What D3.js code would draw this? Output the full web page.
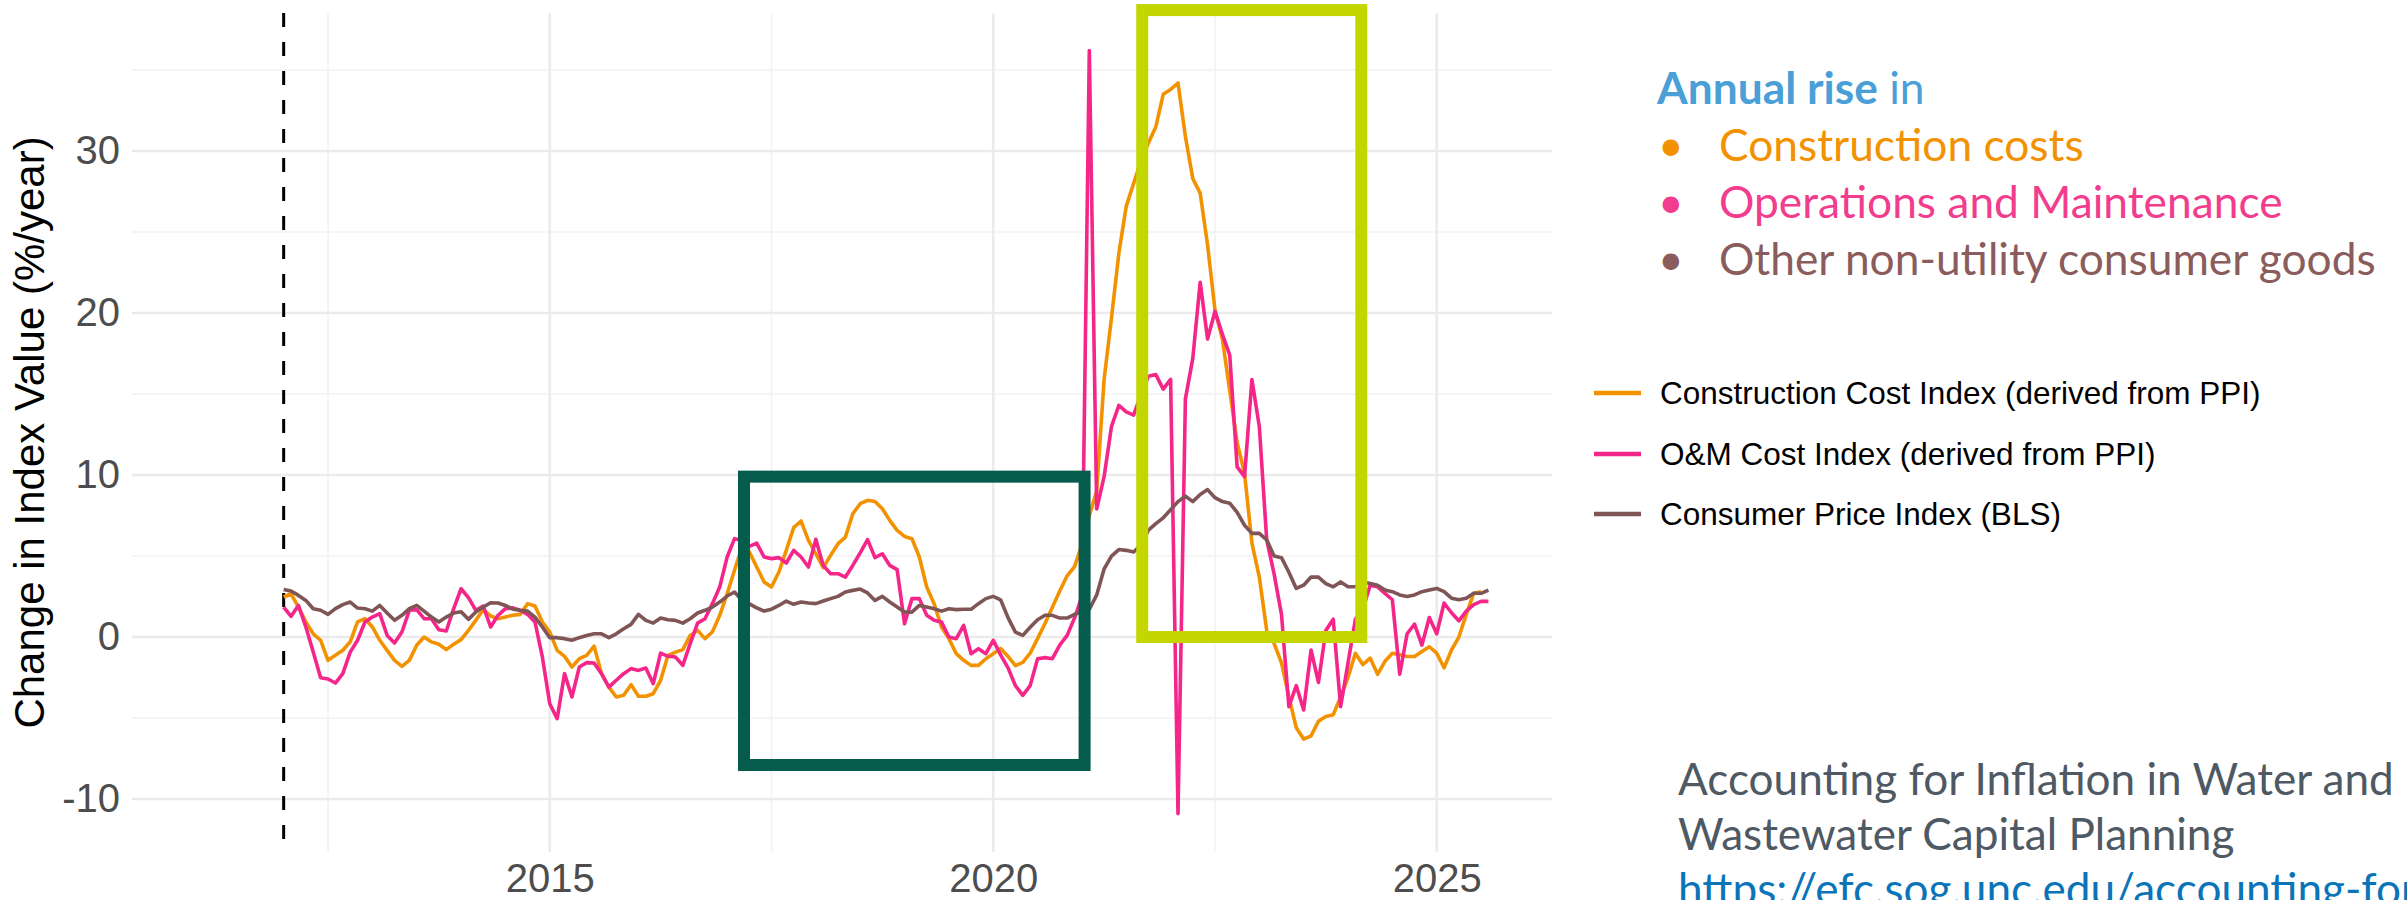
<!DOCTYPE html>
<html><head><meta charset="utf-8">
<script src="https://cdn.jsdelivr.net/npm/d3@7"></script>
<style>html,body{margin:0;padding:0;background:#fff;overflow:hidden}svg{display:block}</style>
</head><body>
<script>
// ---------- data (monthly, Jan 2012 onward, % change per year) ----------
const startYear = 2012;
const constructionIdx = [
 2.47,2.67,1.85,0.93,0.2,-0.2,-1.44,-1.13,-0.82,-0.3,0.93,1.13,
 0.62,-0.2,-0.82,-1.44,-1.81,-1.44,-0.51,0,-0.3,-0.45,-0.78,-0.45,
 -0.16,0.41,1.03,1.69,1.3,1.13,1.23,1.34,1.4,2.06,1.91,0.93,
 0.31,-0.82,-1.19,-1.85,-1.34,-1.13,-0.56,-2.26,-3.09,-3.7,-3.6,-2.94,
 -3.66,-3.66,-3.5,-2.67,-1.13,-0.93,-0.78,0.1,0.41,-0.1,0.31,1.34,
 2.67,4.12,5.56,5.25,4.32,3.4,3.09,4.01,5.35,6.75,7.16,5.97,
 5.14,4.28,5.04,5.76,6.17,7.61,8.23,8.44,8.37,7.92,7.2,6.58,
 6.21,6.07,4.94,3.09,2.06,0.62,-0.1,-1.03,-1.44,-1.75,-1.75,-1.34,
 -1.03,-0.7,-1.2,-1.77,-1.57,-1.0,-0.1,0.84,1.84,2.84,3.78,4.35,
 5.7,7.5,9.0,15.9,19.7,23.7,26.6,28.0,29.4,30.5,31.5,33.5,
 33.8,34.2,30.9,28.3,27.4,24.2,20.2,18.4,15.2,12.0,10.1,5.8,
 3.7,0.4,-0.4,-1.6,-3.7,-5.6,-6.3,-6.1,-5.2,-4.9,-4.8,-3.7,
 -2.5,-1.0,-1.7,-1.3,-2.3,-1.5,-1.0,-1.1,-1.2,-1.2,-0.9,-0.6,
 -1.0,-1.9,-0.8,0.0,1.4,2.7,2.8
];
const omIdx = [
 1.85,1.28,1.95,0.62,-0.93,-2.51,-2.59,-2.84,-2.26,-0.93,-0.2,0.93,
 1.23,1.44,0.1,-0.37,0.31,1.65,1.69,1.13,1.13,0.45,0.37,1.75,
 2.98,2.43,1.65,1.91,0.62,1.34,1.75,1.8,1.65,1.4,0.93,-1.23,
 -4.12,-5.04,-2.26,-3.7,-1.85,-1.58,-1.6,-2.26,-3.09,-2.67,-2.26,-1.95,
 -2.06,-1.91,-2.88,-0.99,-1.19,-1.23,-1.75,-0.41,0.86,1.13,2.06,3.09,
 4.94,6.07,5.97,5.6,5.8,4.94,4.84,4.9,4.57,5.35,4.94,4.32,
 6.03,4.42,3.91,3.91,3.7,4.42,5.19,6.01,4.9,5.14,4.42,4.16,
 0.82,2.37,2.37,1.34,1.03,0.93,0,-0.1,0.72,-1.03,-0.72,-1.03,
 -0.2,-1.1,-1.9,-3.0,-3.6,-3.0,-1.34,-1.27,-1.34,-0.5,0.1,1.17,
 2.5,36.2,7.9,9.9,13.0,14.3,13.9,13.7,15.0,16.1,16.2,15.3,
 15.9,-10.9,14.7,17.2,21.9,18.4,20.1,18.7,17.4,10.5,9.9,15.9,
 13.0,6.0,3.9,1.4,-4.3,-3.0,-4.5,-0.8,-2.8,0.4,1.1,-4.3,
 -1.6,1.1,1.7,3.2,3.1,2.7,2.3,-2.3,0.2,0.8,-0.5,1.2,
 0.2,2.1,1.5,1.0,1.6,2.0,2.2,2.2
];
const cpiIdx = [
 2.94,2.84,2.57,2.26,1.75,1.65,1.4,1.75,2.0,2.16,1.79,1.75,
 1.6,1.95,1.48,1.03,1.34,1.75,1.95,1.6,1.23,0.93,1.23,1.48,
 1.56,1.09,1.54,1.85,2.12,2.1,1.95,1.72,1.65,1.6,1.23,0.62,
 -0.04,-0.04,-0.1,-0.2,-0.04,0.1,0.2,0.2,-0.04,0.2,0.51,0.78,
 1.4,1.03,0.86,1.17,1.07,1.03,0.86,1.13,1.48,1.65,1.85,2.16,
 2.53,2.78,2.26,2.05,1.8,1.6,1.72,1.95,2.22,2.02,2.16,2.1,
 2.06,2.22,2.37,2.51,2.78,2.88,2.96,2.72,2.26,2.51,2.16,1.85,
 1.54,1.54,1.95,1.85,1.75,1.6,1.75,1.69,1.71,1.71,2.06,2.37,
 2.51,2.3,1.2,0.3,0.1,0.6,1.07,1.34,1.34,1.17,1.17,1.4,
 1.57,1.7,2.6,4.2,5.0,5.4,5.35,5.25,5.7,6.6,7.0,7.36,
 7.86,8.36,8.7,8.36,8.8,9.1,8.6,8.36,8.26,7.7,6.9,6.4,
 6.4,6.0,5.0,4.9,4.0,3.0,3.2,3.7,3.7,3.3,3.1,3.4,
 3.1,3.1,3.4,3.3,3.2,2.9,2.8,2.6,2.5,2.6,2.8,2.9,
 3.0,2.8,2.4,2.3,2.4,2.7,2.7,2.9
];
const seriesNames = ["Construction Cost Index (derived from PPI)","O&M Cost Index (derived from PPI)","Consumer Price Index (BLS)"];
const seriesColors = ["#F39200","#F5268A","#7F5556"];
const yTicks = [-10,0,10,20,30];
const yMinor = [-5,5,15,25,35];
const xTicks = [2015,2020,2025];
const xMinor = [2012.5,2017.5,2022.5];
const refLineYear = 2012;
const boxes = [
  {x0:2017.19,x1:2021.03,y0:-7.9,y1:9.9,color:"#055C4C"},
  {x0:2021.68,x1:2024.15,y0:0,y1:38.7,color:"#C4D600"}
];
const noteTitle = ["Annual rise", " in"];
const noteItems = ["Construction costs","Operations and Maintenance","Other non-utility consumer goods"];
const noteColors = ["#F39200","#F23C8E","#8A5C5C"];
const sourceLines = ["Accounting for Inflation in Water and","Wastewater Capital Planning"];
const sourceUrl = "https://efc.sog.unc.edu/accounting-for-inflation-in-water-and-wastewater-capital-planning/";

// ---------- layout ----------
const W = 2407, H = 900;
const P = {l:132, r:1552, t:13, b:852};
const svg = d3.select("body").append("svg").attr("width",W).attr("height",H);
const x = d3.scaleLinear().domain([2010.29,2026.30]).range([P.l,P.r]);
const y = d3.scaleLinear().domain([-13.27,38.52]).range([P.b,P.t]);
const tickFont = "'Liberation Sans', Arial, Helvetica, sans-serif";

// grid
const g = svg.append("g");
g.selectAll("line.ymin").data(yMinor).join("line")
  .attr("x1",P.l).attr("x2",P.r).attr("y1",d=>y(d)).attr("y2",d=>y(d))
  .attr("stroke","#F2F2F2").attr("stroke-width",1.6);
g.selectAll("line.xmin").data(xMinor).join("line")
  .attr("y1",P.t).attr("y2",P.b).attr("x1",d=>x(d)).attr("x2",d=>x(d))
  .attr("stroke","#F2F2F2").attr("stroke-width",1.6);
g.selectAll("line.ymaj").data(yTicks).join("line")
  .attr("x1",P.l).attr("x2",P.r).attr("y1",d=>y(d)).attr("y2",d=>y(d))
  .attr("stroke","#EBEBEB").attr("stroke-width",2.6);
g.selectAll("line.xmaj").data(xTicks).join("line")
  .attr("y1",P.t).attr("y2",P.b).attr("x1",d=>x(d)).attr("x2",d=>x(d))
  .attr("stroke","#EBEBEB").attr("stroke-width",2.6);

// axes (labels only)
const yAxis = d3.axisLeft(y).tickValues(yTicks).tickSize(0).tickPadding(12).tickFormat(d=>String(d));
svg.append("g").attr("transform",`translate(${P.l},0)`).call(yAxis)
  .call(a=>a.select(".domain").remove())
  .selectAll("text").attr("font-family",tickFont).attr("font-size",40).attr("fill","#4D4D4D");
const xAxis = d3.axisBottom(x).tickValues(xTicks).tickSize(0).tickPadding(12).tickFormat(d=>String(d));
svg.append("g").attr("transform",`translate(0,${P.b})`).call(xAxis)
  .call(a=>a.select(".domain").remove())
  .selectAll("text").attr("font-family",tickFont).attr("font-size",40).attr("fill","#4D4D4D");

svg.append("text").attr("transform",`translate(44,${(P.t+P.b)/2}) rotate(-90)`)
  .attr("text-anchor","middle").attr("font-family",tickFont).attr("font-size",42).attr("fill","#000")
  .text("Change in Index Value (%/year)");

// reference dashed line
svg.append("line").attr("x1",x(refLineYear)).attr("x2",x(refLineYear)).attr("y1",P.t).attr("y2",P.b)
  .attr("stroke","#000").attr("stroke-width",3).attr("stroke-dasharray","14,15");

// series (drawn in legend order, CPI last)
const allSeries = [constructionIdx, omIdx, cpiIdx];
const line = d3.line().x((d,i)=>x(startYear+i/12)).y(d=>y(d)).defined(d=>d!=null);
allSeries.forEach((s,k)=>{
  svg.append("path").datum(s).attr("d",line).attr("fill","none")
    .attr("stroke",seriesColors[k]).attr("stroke-width",3.6).attr("stroke-linejoin","round");
});

// boxes
svg.selectAll("rect.box").data(boxes).join("rect")
  .attr("x",d=>x(d.x0)).attr("y",d=>y(d.y1)).attr("width",d=>x(d.x1)-x(d.x0)).attr("height",d=>y(d.y0)-y(d.y1))
  .attr("fill","none").attr("stroke",d=>d.color).attr("stroke-width",12);

// legend (ggplot style)
const lg = svg.append("g");
const keyY = [393,454,514];
seriesNames.forEach((n,i)=>{
  lg.append("line").attr("x1",1594).attr("x2",1641).attr("y1",keyY[i]).attr("y2",keyY[i])
    .attr("stroke",seriesColors[i]).attr("stroke-width",4.5);
  lg.append("text").attr("x",1660).attr("y",keyY[i]).attr("dy","0.35em")
    .attr("font-family",tickFont).attr("font-size",31.5).attr("fill","#000").text(n);
});

// annotation text (Calibri-like)
const noteFont = "Lato, 'Open Sans', sans-serif";
const nt = svg.append("g").attr("font-family",noteFont);
const t0 = nt.append("text").attr("x",1657).attr("y",104).attr("fill","#4A9FD6");
t0.append("tspan").attr("font-weight","bold").text(noteTitle[0]);
t0.append("tspan").text(noteTitle[1]);
const noteBase = [161,218,275];
const items = noteItems.map((s,i)=>{
  nt.append("text").attr("x",1658).attr("y",noteBase[i]).attr("fill",noteColors[i]).text("•");
  return nt.append("text").attr("x",1719).attr("y",noteBase[i]).attr("fill",noteColors[i]).text(s);
});
nt.selectAll("text").attr("font-size",40);
const wLong = items[2].node().getComputedTextLength();
const fsNote = 40*657/wLong;
nt.selectAll("text").attr("font-size",fsNote);

const st = svg.append("g").attr("font-family",noteFont);
const srcBase = [795,850,905];
const s0 = st.append("text").attr("x",1678).attr("y",srcBase[0]).attr("fill","#4E5964").text(sourceLines[0]);
st.append("text").attr("x",1678).attr("y",srcBase[1]).attr("fill","#4E5964").text(sourceLines[1]);
st.append("text").attr("x",1678).attr("y",srcBase[2]).attr("fill","#0B74B9").text(sourceUrl);
st.selectAll("text").attr("font-size",40);
const wS = s0.node().getComputedTextLength();
st.selectAll("text").attr("font-size",40*716/wS);
</script>
</body></html>
